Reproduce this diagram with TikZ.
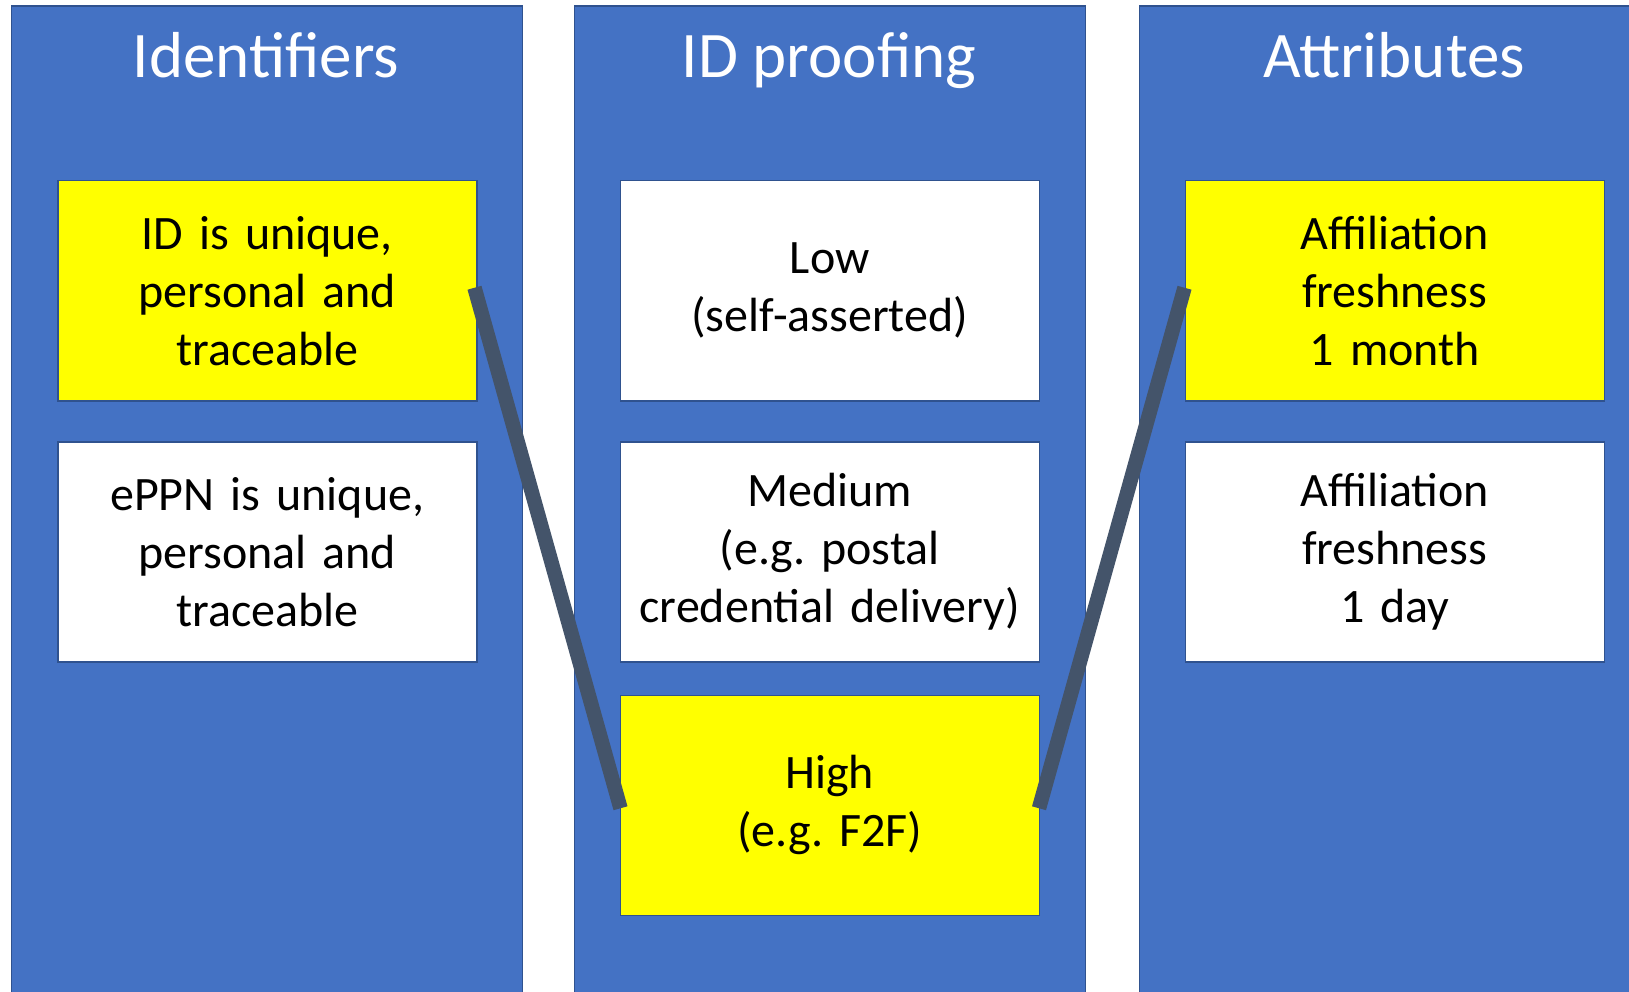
\documentclass[tikz,border=0pt]{standalone}
\usepackage{fontspec}
\setmainfont{Carlito}
\frenchspacing
\definecolor{colblue}{HTML}{4472C4}
\definecolor{edgeblue}{HTML}{2F528F}
\definecolor{linkgray}{HTML}{44546A}
\definecolor{hiyellow}{HTML}{FFFF00}
\begin{document}
\begin{tikzpicture}[x=1pt,y=-1pt,
  column/.style={draw=edgeblue, line width=1.5pt, fill=colblue, anchor=north west,
    minimum width=511pt, minimum height=1000pt, inner sep=0pt},
  coltitle/.style={text=white, anchor=base, inner sep=0pt,
    font=\fontsize{65}{78}\selectfont},
  card/.style={draw=edgeblue, line width=1.5pt, anchor=north west,
    minimum width=419pt, minimum height=220pt, inner sep=0pt,
    align=center, text width=410pt, font=\fontsize{48}{58}\selectfont},
  yellowcard/.style={card, fill=hiyellow},
  whitecard/.style={card, fill=white},
  link/.style={draw=linkgray, line width=14.5pt, line cap=butt}]
\useasboundingbox (0,0) rectangle (1629,992);
\clip (0,0) rectangle (1629,992);
\fill[white] (0,0) rectangle (1629,992);

\node[column] (colA) at (10.5,5.5) {};
\node[column] (colB) at (573.5,5.5) {};
\node[column, minimum width=520pt] (colC) at (1138.5,5.5) {};

\node[coltitle] (tA) at (266,78) {Identifiers};
\node[coltitle] (tB) at (829,78) {ID proofing};
\node[coltitle] (tC) at (1394,78) {Attributes};

\node[yellowcard] (a1) at (57,180) {ID is unique,\\personal and\\traceable};
\node[whitecard]  (a2) at (57,441) {ePPN is unique,\\personal and\\traceable};

\node[whitecard]  (b1) at (619.5,180) {Low\\(self-asserted)};
\node[whitecard]  (b2) at (619.5,441) {Medium\\(e.g. postal\\credential delivery)};
\node[yellowcard] (b3) at (619.5,694.5) {High\\(e.g. F2F)};

\node[yellowcard] (c1) at (1184.5,180) {Affiliation\\freshness\\1 month};
\node[whitecard]  (c2) at (1184.5,441) {Affiliation\\freshness\\1 day};

\draw[link] ([xshift=-3pt,yshift=3pt]a1.east) -- ([xshift=1pt,yshift=-3pt]b3.west);
\draw[link] ([xshift=-1pt,yshift=-3pt]b3.east) -- ([xshift=0pt,yshift=3pt]c1.west);
\end{tikzpicture}
\end{document}
